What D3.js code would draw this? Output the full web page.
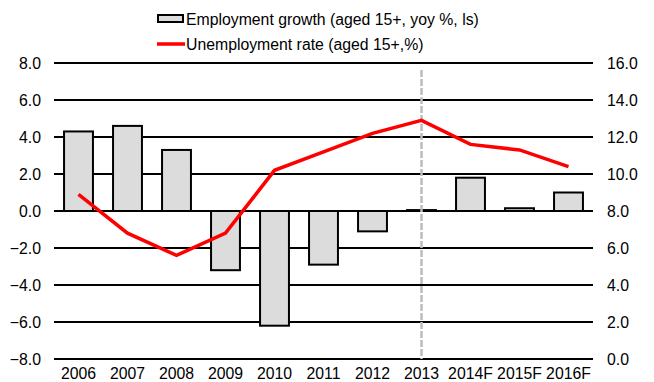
<!DOCTYPE html>
<html><head><meta charset="utf-8">
<script src="https://cdn.jsdelivr.net/npm/d3@7"></script>
<style>body{margin:0;background:#fff}svg{display:block}text{font-family:"Liberation Sans",Arial,sans-serif;fill:#000}</style>
</head><body><svg id="c" width="654" height="382"></svg>
<script>
const categories = ["2006","2007","2008","2009","2010","2011","2012","2013","2014F","2015F","2016F"];
const employmentGrowth = [4.3, 4.6, 3.3, -3.2, -6.2, -2.9, -1.1, 0.05, 1.8, 0.15, 1.0];
const unemploymentRate = [8.9, 6.8, 5.6, 6.8, 10.2, 11.2, 12.2, 12.9, 11.6, 11.3, 10.4];
const leftTicks = [-8, -6, -4, -2, 0, 2, 4, 6, 8];
const rightTicks = [0, 2, 4, 6, 8, 10, 12, 14, 16];
const markerCategory = "2013";
const legendLabels = ["Employment growth (aged 15+, yoy %, ls)", "Unemployment rate (aged 15+,%)"];

const svg = d3.select("#c");
const L = 54, R = 593, T = 63, B = 359;
const x = d3.scaleBand().domain(categories).range([L, R]).paddingInner(0.41).paddingOuter(0.205);
const xc = d3.scaleBand().domain(categories).range([L, R]);
const yL = d3.scaleLinear().domain([-8, 8]).range([B, T]);
const yR = d3.scaleLinear().domain([0, 16]).range([B, T]);
const fs = "15.8px";

svg.append("g").selectAll("line").data(leftTicks).join("line")
  .attr("x1", L).attr("x2", R).attr("y1", d => yL(d)).attr("y2", d => yL(d))
  .attr("stroke", "#000").attr("stroke-width", 2);

svg.append("g").selectAll("text").data(leftTicks).join("text")
  .attr("x", 41).attr("y", d => yL(d)).attr("dy", "0.35em").attr("text-anchor", "end")
  .style("font-size", fs).text(d => d3.format(".1f")(d));
svg.append("g").selectAll("text").data(rightTicks).join("text")
  .attr("x", 607).attr("y", d => yR(d)).attr("dy", "0.35em").attr("text-anchor", "start")
  .style("font-size", fs).text(d => d3.format(".1f")(d));
svg.append("g").selectAll("text").data(categories).join("text")
  .attr("x", d => xc(d) + xc.bandwidth() / 2).attr("y", 378.5).attr("text-anchor", "middle")
  .style("font-size", fs).text(d => d);

svg.append("g").selectAll("rect").data(categories).join("rect")
  .attr("x", d => x(d)).attr("width", x.bandwidth())
  .attr("y", (d, i) => yL(Math.max(0, employmentGrowth[i])))
  .attr("height", (d, i) => Math.abs(yL(employmentGrowth[i]) - yL(0)))
  .attr("fill", "#dcdcdc").attr("stroke", "#000").attr("stroke-width", 2);

const mx = xc(markerCategory) + xc.bandwidth() / 2;
svg.append("line").attr("x1", mx).attr("x2", mx).attr("y1", 70).attr("y2", B)
  .attr("stroke", "#bdbdbd").attr("stroke-width", 2.5).attr("stroke-dasharray", "7,2");

const line = d3.line().x((d, i) => xc(categories[i]) + xc.bandwidth() / 2).y(d => yR(d));
svg.append("path").datum(unemploymentRate).attr("d", line)
  .attr("fill", "none").attr("stroke", "#ff0000").attr("stroke-width", 3.5).attr("stroke-linejoin", "miter");

const lg = svg.append("g");
lg.append("rect").attr("x", 158).attr("y", 15).attr("width", 25).attr("height", 7)
  .attr("fill", "#dcdcdc").attr("stroke", "#000").attr("stroke-width", 2);
lg.append("text").attr("x", 186).attr("y", 19).attr("dy", "0.35em").style("font-size", fs).text(legendLabels[0]);
lg.append("line").attr("x1", 157).attr("x2", 185).attr("y1", 44).attr("y2", 44)
  .attr("stroke", "#ff0000").attr("stroke-width", 3.5);
lg.append("text").attr("x", 186).attr("y", 44).attr("dy", "0.35em").style("font-size", fs).text(legendLabels[1]);
</script></body></html>
